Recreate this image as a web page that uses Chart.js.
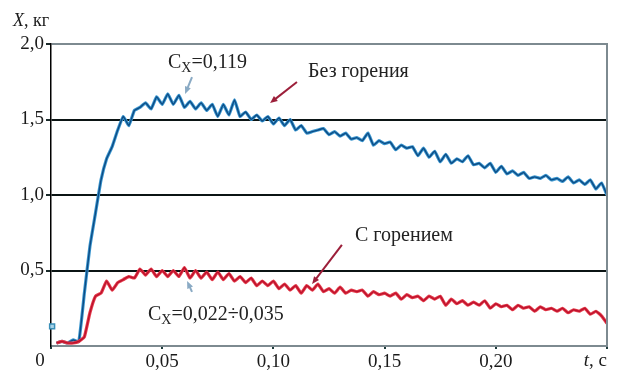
<!DOCTYPE html>
<html>
<head>
<meta charset="utf-8">
<script src="https://cdn.jsdelivr.net/npm/chart.js@4"></script>
<style>
  html, body { margin: 0; padding: 0; background: #fff; }
  canvas { display: block; }
</style>
</head>
<body>
<canvas id="chartX" width="618" height="372"></canvas>
<script>
/* =========================================================
   DATA
========================================================= */
const timeS = [
  0.0025, 0.005, 0.0075, 0.01, 0.0125, 0.015, 0.0175, 0.02, 0.0225, 0.025,
  0.0275, 0.03, 0.0325, 0.035, 0.0375, 0.04, 0.0425, 0.045, 0.0475, 0.05,
  0.0525, 0.055, 0.0575, 0.06, 0.0625, 0.065, 0.0675, 0.07, 0.0725, 0.075,
  0.0775, 0.08, 0.0825, 0.085, 0.0875, 0.09, 0.0925, 0.095, 0.0975, 0.10,
  0.1025, 0.105, 0.1075, 0.11, 0.1125, 0.115, 0.1175, 0.12, 0.1225, 0.125,
  0.1275, 0.13, 0.1325, 0.135, 0.1375, 0.14, 0.1425, 0.145, 0.1475, 0.15,
  0.1525, 0.155, 0.1575, 0.16, 0.1625, 0.165, 0.1675, 0.17, 0.1725, 0.175,
  0.1775, 0.18, 0.1825, 0.185, 0.1875, 0.19, 0.1925, 0.195, 0.1975, 0.20,
  0.2025, 0.205, 0.2075, 0.21, 0.2125, 0.215, 0.2175, 0.22, 0.2225, 0.225,
  0.2275, 0.23, 0.2325, 0.235, 0.2375, 0.24, 0.2425, 0.245, 0.2475, 0.25
];

// Без горения (blue)
const massNoFire = [
  0.02, 0.03, 0.02, 0.04, 0.03, 0.35, 0.66, 0.88, 1.10, 1.24,
  1.32, 1.43, 1.52, 1.46, 1.56, 1.58, 1.61, 1.57, 1.65, 1.60,
  1.67, 1.60, 1.66, 1.58, 1.62, 1.57, 1.61, 1.56, 1.60, 1.52,
  1.60, 1.53, 1.63, 1.52, 1.55, 1.50, 1.53, 1.49, 1.52, 1.47,
  1.51, 1.46, 1.50, 1.43, 1.46, 1.41, 1.42, 1.43, 1.44, 1.40,
  1.42, 1.39, 1.41, 1.37, 1.38, 1.36, 1.41, 1.33, 1.36, 1.34,
  1.35, 1.30, 1.33, 1.31, 1.32, 1.26, 1.31, 1.25, 1.29, 1.22,
  1.27, 1.21, 1.24, 1.22, 1.26, 1.20, 1.21, 1.18, 1.21, 1.15,
  1.19, 1.14, 1.16, 1.13, 1.15, 1.11, 1.12, 1.11, 1.13, 1.10,
  1.11, 1.09, 1.12, 1.08, 1.10, 1.07, 1.10, 1.04, 1.08, 1.00
];

// С горением (red)
const massFire = [
  0.02, 0.03, 0.02, 0.02, 0.03, 0.06, 0.22, 0.33, 0.35, 0.43,
  0.37, 0.42, 0.44, 0.46, 0.45, 0.51, 0.47, 0.51, 0.46, 0.50,
  0.46, 0.50, 0.46, 0.52, 0.45, 0.50, 0.45, 0.49, 0.44, 0.49,
  0.44, 0.48, 0.43, 0.46, 0.42, 0.45, 0.40, 0.43, 0.40, 0.43,
  0.38, 0.41, 0.37, 0.40, 0.35, 0.40, 0.37, 0.41, 0.36, 0.38,
  0.35, 0.39, 0.35, 0.37, 0.36, 0.37, 0.33, 0.36, 0.34, 0.35,
  0.33, 0.35, 0.31, 0.34, 0.32, 0.33, 0.30, 0.33, 0.31, 0.33,
  0.27, 0.31, 0.28, 0.30, 0.27, 0.29, 0.27, 0.30, 0.25, 0.28,
  0.26, 0.27, 0.24, 0.27, 0.25, 0.26, 0.23, 0.26, 0.24, 0.25,
  0.23, 0.25, 0.22, 0.24, 0.23, 0.25, 0.21, 0.23, 0.20, 0.15
];

// small marker near the origin
const markerPoint = [{ x: 0.0005, y: 0.13 }];

const yTicks = [0, 0.5, 1.0, 1.5, 2.0];
const xTicks = [0, 0.05, 0.10, 0.15, 0.20, 0.25];

const toPoints = vals => vals.map((v, i) => ({ x: timeS[i], y: v }));
const comma = (v, d) => v.toFixed(d).replace('.', ',');

const SERIF = "'Liberation Serif', 'DejaVu Serif', serif";

/* =========================================================
   LABELS + ARROWS
========================================================= */
function drawArrow(c, x1, y1, x2, y2, color, w) {
    const ang = Math.atan2(y2 - y1, x2 - x1);
    const hl = 8;
    c.save();
    c.strokeStyle = color;
    c.fillStyle = color;
    c.lineWidth = w;
    c.beginPath();
    c.moveTo(x1, y1);
    c.lineTo(x2 - Math.cos(ang) * hl * 0.6, y2 - Math.sin(ang) * hl * 0.6);
    c.stroke();
    c.beginPath();
    c.moveTo(x2, y2);
    c.lineTo(x2 - hl * Math.cos(ang - 0.4), y2 - hl * Math.sin(ang - 0.4));
    c.lineTo(x2 - hl * Math.cos(ang + 0.4), y2 - hl * Math.sin(ang + 0.4));
    c.closePath();
    c.fill();
    c.restore();
}

function drawCx(c, x, y, rest) {
    c.font = `20px ${SERIF}`;
    c.fillText('C', x, y);
    let w = c.measureText('C').width;
    c.font = `14px ${SERIF}`;
    c.fillText('X', x + w, y + 4);
    w += c.measureText('X').width;
    c.font = `20px ${SERIF}`;
    c.fillText(rest, x + w, y);
}

const labelsPlugin = {
    id: 'labels',
    afterDraw(chart) {
        const c = chart.ctx;
        const xs = chart.scales.x, ys = chart.scales.y;
        const area = chart.chartArea;
        const px = t => xs.getPixelForValue(t);
        const py = v => ys.getPixelForValue(v);

        // right frame line
        c.save();
        c.strokeStyle = '#7d8a90';
        c.lineWidth = 2;
        c.beginPath();
        c.moveTo(area.right, area.top - 1);
        c.lineTo(area.right, area.bottom + 1);
        c.stroke();

        c.fillStyle = '#1a1a1a';
        c.textBaseline = 'alphabetic';
        c.textAlign = 'left';

        // axis titles
        c.font = `italic 18px ${SERIF}`;
        c.fillText('X', 13, 26);
        let w = c.measureText('X').width;
        c.font = `18px ${SERIF}`;
        c.fillText(', кг', 13 + w, 26);

        c.font = `19px ${SERIF}`;
        c.textBaseline = 'middle';
        c.textAlign = 'center';
        c.fillText('0', 40, 361);

        c.textAlign = 'right';
        const tail = ', c';
        c.fillText(tail, area.right, 361);
        const tw = c.measureText(tail).width;
        c.font = `italic 19px ${SERIF}`;
        c.fillText('t', area.right - tw, 361);

        // annotations
        c.textAlign = 'left';
        c.textBaseline = 'alphabetic';
        c.fillStyle = '#222';
        drawCx(c, px(0.0526), py(1.841), '=0,119');
        drawCx(c, px(0.0436), py(0.172), '=0,022÷0,035');
        c.font = `20px ${SERIF}`;
        c.fillText('Без горения', px(0.1156), py(1.781));
        c.fillText('С горением', px(0.1367), py(0.695));

        drawArrow(c, px(0.0634), py(1.781), px(0.0603), py(1.669), '#8aaac4', 2);
        drawArrow(c, px(0.0634), py(0.358), px(0.0612), py(0.430), '#8aaac4', 2);
        drawArrow(c, px(0.1106), py(1.748), px(0.0985), py(1.609), '#9c1f3a', 2);
        drawArrow(c, px(0.1308), py(0.669), px(0.1174), py(0.411), '#9c1f3a', 2);
        c.restore();
    }
};

/* =========================================================
   CHART
========================================================= */
const canvas = document.getElementById('chartX');

new Chart(canvas, {
    type: 'line',
    data: {
        datasets: [
            {
                data: toPoints(massNoFire),
                borderColor: '#3a96cf',
                borderWidth: 3.2,
                pointRadius: 0,
                tension: 0.12,
                order: 4
            },
            {
                data: toPoints(massNoFire),
                borderColor: '#0d4c85',
                borderWidth: 1.4,
                pointRadius: 0,
                tension: 0.12,
                order: 3
            },
            {
                data: toPoints(massFire),
                borderColor: '#e53d4c',
                borderWidth: 3.2,
                pointRadius: 0,
                tension: 0.12,
                order: 2
            },
            {
                data: toPoints(massFire),
                borderColor: '#bd122d',
                borderWidth: 1.4,
                pointRadius: 0,
                tension: 0.12,
                order: 1
            },
            {
                data: markerPoint,
                showLine: false,
                pointStyle: 'rect',
                pointRadius: 3.5,
                pointBorderWidth: 1.5,
                pointBorderColor: '#3a8fb8',
                pointBackgroundColor: '#a9d3e8',
                clip: false,
                order: 0
            }
        ]
    },
    options: {
        responsive: false,
        animation: false,
        layout: { padding: { top: 44, right: 11, left: 0, bottom: 0 } },
        plugins: {
            legend: { display: false },
            tooltip: { enabled: false }
        },
        scales: {
            x: {
                type: 'linear',
                min: 0,
                max: 0.25,
                afterFit: s => { s.height = 26; },
                afterBuildTicks: s => { s.ticks = xTicks.map(v => ({ value: v })); },
                ticks: {
                    padding: 2,
                    maxRotation: 0,
                    autoSkip: false,
                    color: '#1a1a1a',
                    font: { family: SERIF, size: 19 },
                    callback: v => (v === 0 || v > 0.24) ? '' : comma(v, 2)
                },
                grid: {
                    drawOnChartArea: false,
                    drawTicks: true,
                    tickLength: 3,
                    tickColor: '#1d3b3b',
                    lineWidth: 2
                },
                border: { color: '#7d8a90', width: 2 }
            },
            y: {
                min: 0,
                max: 2,
                afterFit: s => { s.width = 51; },
                afterBuildTicks: s => { s.ticks = yTicks.map(v => ({ value: v })); },
                ticks: {
                    padding: 2,
                    color: '#1a1a1a',
                    font: { family: SERIF, size: 19 },
                    callback: v => v === 0 ? '' : comma(v, 1)
                },
                grid: {
                    drawTicks: true,
                    tickLength: 5,
                    tickColor: ctx => ctx.tick.value === 0 ? 'rgba(0,0,0,0)' : '#1a2a2a',
                    lineWidth: 2,
                    color: ctx => {
                        const v = ctx.tick.value;
                        if (v === 0) return 'rgba(0,0,0,0)';
                        if (v === 2) return '#7d8a90';
                        return '#0b1414';
                    }
                },
                border: { color: '#000', width: 1.5 }
            }
        }
    },
    plugins: [labelsPlugin]
});
</script>
</body>
</html>
